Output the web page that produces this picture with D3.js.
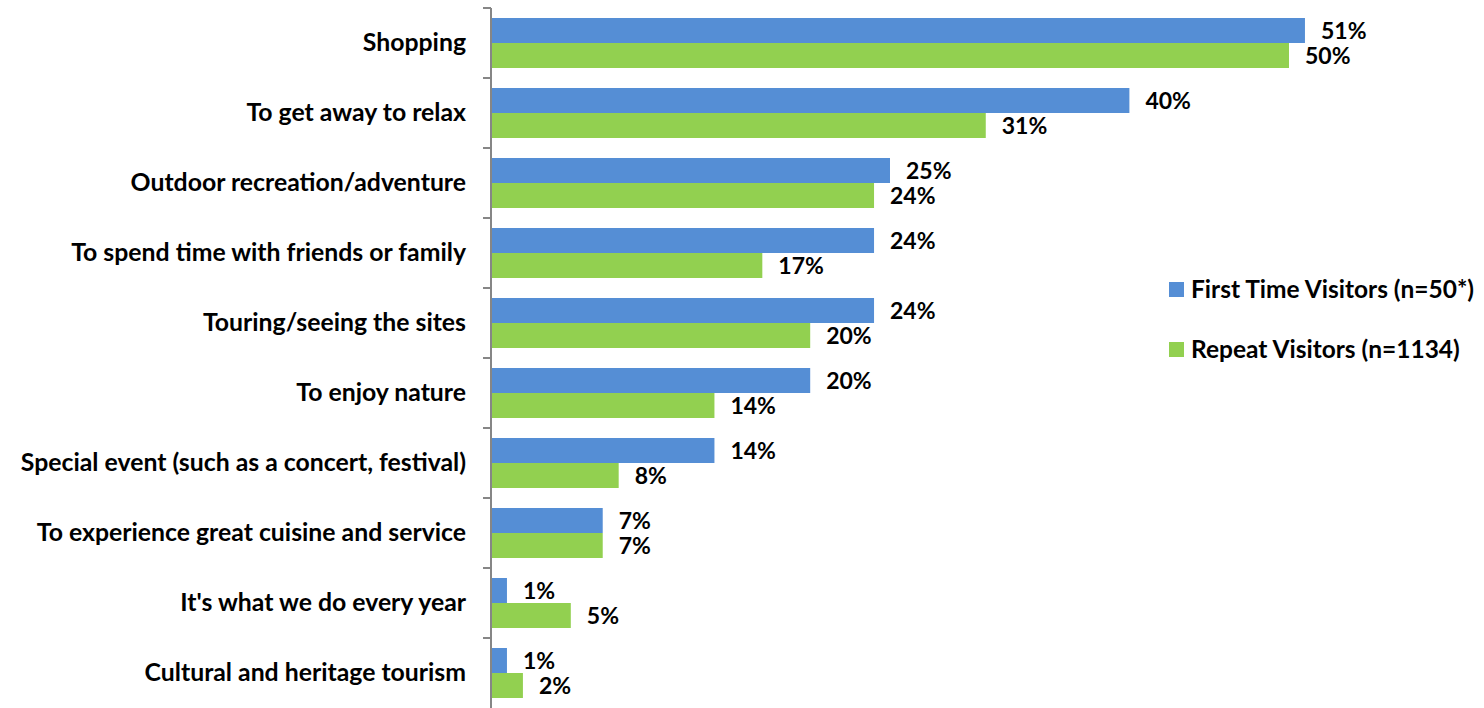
<!DOCTYPE html>
<html>
<head>
<meta charset="utf-8">
<script src="https://cdn.jsdelivr.net/npm/d3@7"></script>
<style>
  html, body { margin: 0; padding: 0; background: #fff; }
  svg { display: block; }
  text { font-family: Lato, "Open Sans", sans-serif; font-weight: bold; fill: #000; }
</style>
</head>
<body>
<svg id="chart" width="1484" height="708"></svg>
<script>
const categories = [
  "Shopping",
  "To get away to relax",
  "Outdoor recreation/adventure",
  "To spend time with friends or family",
  "Touring/seeing the sites",
  "To enjoy nature",
  "Special event (such as a concert, festival)",
  "To experience great cuisine and service",
  "It's what we do every year",
  "Cultural and heritage tourism"
];
const seriesNames = ["First Time Visitors (n=50*)", "Repeat Visitors (n=1134)"];
const firstTime = [51, 40, 25, 24, 24, 20, 14, 7, 1, 1];
const repeat    = [50, 31, 24, 17, 20, 14, 8, 7, 5, 2];
const colors = ["#558ED5", "#92D050"];

const svg = d3.select("#chart");
const axisX = 491, plotTop = 8, plotBottom = 708;

const x = d3.scaleLinear().domain([0, 60]).range([axisX, axisX + 60 * 15.96]);
const y = d3.scaleBand().domain(categories).range([plotTop, plotBottom]);
const inner = d3.scaleBand().domain([0, 1]).range([10, y.bandwidth() - 10]);

const series = [firstTime, repeat];

// bars and value labels
const groups = svg.append("g").selectAll("g")
  .data(categories)
  .join("g")
  .attr("transform", d => `translate(0,${y(d)})`);

series.forEach((vals, s) => {
  groups.append("rect")
    .attr("x", x(0))
    .attr("y", inner(s))
    .attr("width", (d, i) => x(vals[i]) - x(0))
    .attr("height", inner.bandwidth())
    .attr("fill", colors[s]);
  groups.append("text")
    .attr("x", (d, i) => x(vals[i]) + 16)
    .attr("y", inner(s) + inner.bandwidth() / 2)
    .attr("dy", "0.36em")
    .attr("font-size", 23)
    .text((d, i) => vals[i] + "%");
});

// category labels
const axis = d3.axisLeft(y).tickSize(0).tickPadding(25);
const ag = svg.append("g").attr("transform", `translate(${axisX},0)`).call(axis);
ag.select(".domain").remove();
ag.selectAll("text")
  .attr("font-size", 24.8)
  .attr("dy", "0.34em")
  .style("font-family", "Lato, 'Open Sans', sans-serif")
  .style("font-weight", "bold")
  .attr("fill", "#000");

// axis line with boundary ticks
svg.append("line")
  .attr("x1", axisX).attr("x2", axisX)
  .attr("y1", plotTop).attr("y2", plotBottom)
  .attr("stroke", "#868686").attr("stroke-width", 2);
svg.append("g").selectAll("line")
  .data(categories.map(c => y(c)))
  .join("line")
  .attr("x1", axisX - 8).attr("x2", axisX)
  .attr("y1", d => d).attr("y2", d => d)
  .attr("stroke", "#868686").attr("stroke-width", 2);

// legend
const legend = svg.append("g").selectAll("g")
  .data(seriesNames)
  .join("g")
  .attr("transform", (d, i) => `translate(1169,${289 + i * 60})`);
legend.append("rect")
  .attr("x", 0).attr("y", -7).attr("width", 15).attr("height", 15)
  .attr("fill", (d, i) => colors[i]);
legend.append("text")
  .attr("x", 22).attr("y", 0).attr("dy", "0.36em")
  .attr("font-size", 24.5)
  .text(d => d);
</script>
</body>
</html>
